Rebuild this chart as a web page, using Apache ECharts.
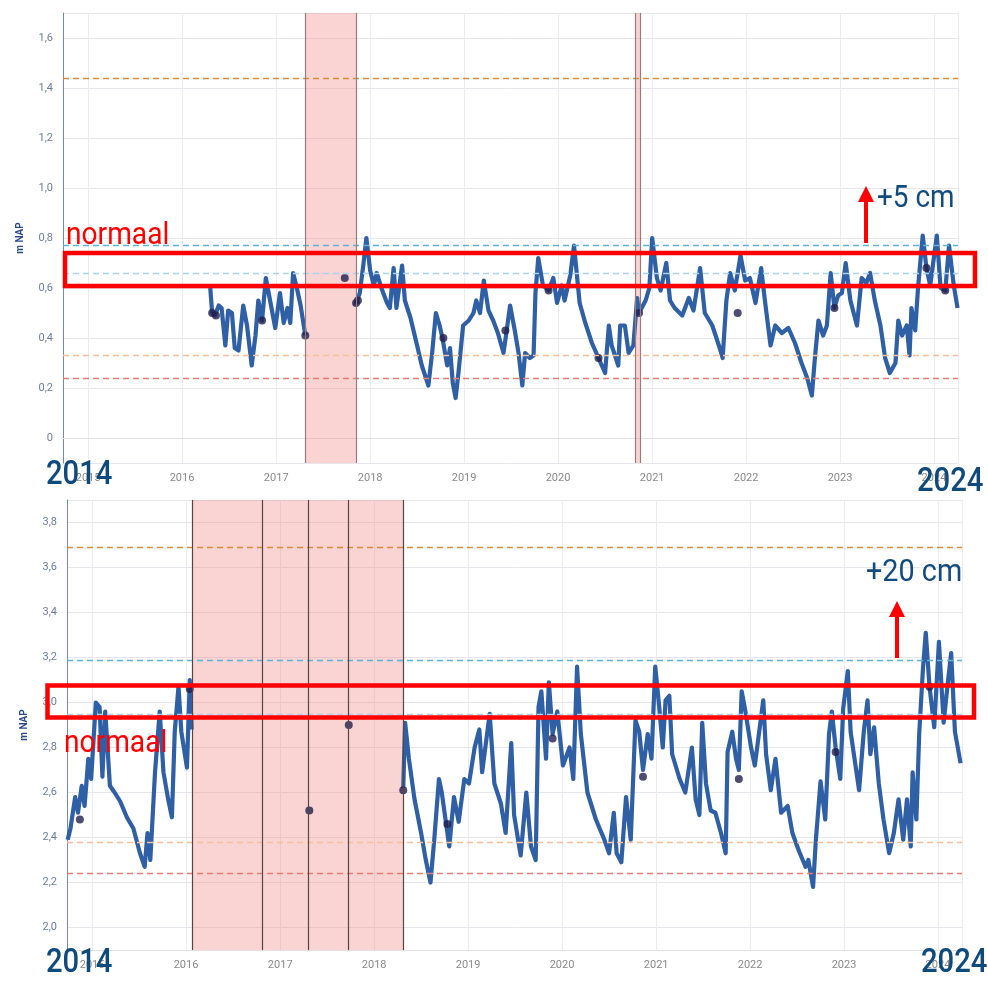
<!DOCTYPE html>
<html>
<head>
<meta charset="utf-8">
<script src="https://cdn.jsdelivr.net/npm/echarts@6/dist/echarts.min.js"></script>
<style>
html,body{margin:0;padding:0;background:#fff;}
#chart{width:988px;height:981px;}
</style>
</head>
<body>
<div id="chart"></div>
<script>
// ---------- DATA (decimal year, m NAP) ----------
const topSegA = [[2016.30,0.60],[2016.32,0.50],[2016.35,0.49],[2016.39,0.53],[2016.42,0.52],[2016.46,0.37],[2016.49,0.51],[2016.53,0.50],[2016.56,0.36],[2016.60,0.35],[2016.65,0.53],[2016.69,0.45],[2016.74,0.29],[2016.78,0.41],[2016.81,0.55],[2016.85,0.47],[2016.89,0.64],[2016.94,0.54],[2016.99,0.44],[2017.04,0.58],[2017.08,0.46],[2017.12,0.52],[2017.15,0.46],[2017.18,0.66],[2017.22,0.60],[2017.26,0.53],[2017.31,0.41]];
const topSegB = [[2017.84,0.53],[2017.89,0.58],[2017.93,0.70],[2017.96,0.80],[2018.00,0.67],[2018.04,0.61],[2018.07,0.66],[2018.12,0.60],[2018.18,0.54],[2018.21,0.52],[2018.25,0.68],[2018.28,0.52],[2018.34,0.69],[2018.37,0.55],[2018.43,0.48],[2018.50,0.37],[2018.55,0.29],[2018.62,0.21],[2018.66,0.34],[2018.70,0.50],[2018.74,0.45],[2018.77,0.40],[2018.82,0.29],[2018.85,0.36],[2018.88,0.22],[2018.91,0.16],[2018.94,0.26],[2018.99,0.45],[2019.05,0.47],[2019.10,0.50],[2019.13,0.55],[2019.17,0.50],[2019.21,0.63],[2019.26,0.51],[2019.31,0.47],[2019.36,0.42],[2019.42,0.34],[2019.45,0.42],[2019.49,0.53],[2019.54,0.43],[2019.58,0.34],[2019.62,0.21],[2019.65,0.34],[2019.70,0.32],[2019.74,0.33],[2019.76,0.58],[2019.79,0.72],[2019.84,0.61],[2019.90,0.59],[2019.95,0.64],[2019.99,0.54],[2020.04,0.61],[2020.07,0.55],[2020.13,0.65],[2020.17,0.77],[2020.23,0.54],[2020.29,0.46],[2020.36,0.38],[2020.43,0.32],[2020.50,0.26],[2020.54,0.45],[2020.57,0.37],[2020.64,0.29],[2020.66,0.45],[2020.71,0.45],[2020.75,0.34],[2020.80,0.37],[2020.84,0.56],[2020.86,0.50],[2020.93,0.55],[2020.97,0.60],[2021.00,0.80],[2021.05,0.64],[2021.09,0.59],[2021.15,0.70],[2021.19,0.55],[2021.24,0.52],[2021.32,0.49],[2021.39,0.56],[2021.44,0.51],[2021.51,0.68],[2021.56,0.50],[2021.64,0.45],[2021.71,0.37],[2021.75,0.32],[2021.79,0.55],[2021.83,0.66],[2021.88,0.59],[2021.94,0.73],[2021.99,0.63],[2022.04,0.64],[2022.10,0.54],[2022.16,0.68],[2022.20,0.55],[2022.26,0.37],[2022.31,0.45],[2022.38,0.42],[2022.45,0.44],[2022.52,0.38],[2022.59,0.30],[2022.65,0.24],[2022.70,0.17],[2022.73,0.31],[2022.77,0.47],[2022.82,0.41],[2022.86,0.45],[2022.90,0.66],[2022.94,0.52],[2022.98,0.57],[2023.02,0.58],[2023.06,0.70],[2023.11,0.55],[2023.18,0.45],[2023.23,0.64],[2023.28,0.62],[2023.32,0.66],[2023.37,0.55],[2023.43,0.45],[2023.48,0.32],[2023.53,0.26],[2023.59,0.30],[2023.62,0.47],[2023.66,0.41],[2023.71,0.45],[2023.74,0.33],[2023.76,0.52],[2023.80,0.43],[2023.83,0.60],[2023.88,0.81],[2023.92,0.68],[2023.96,0.61],[2024.03,0.81],[2024.07,0.60],[2024.12,0.59],[2024.16,0.77],[2024.21,0.61],[2024.25,0.52]];
const topDots = [[2016.32,0.50],[2016.36,0.49],[2016.85,0.47],[2017.31,0.41],[2017.73,0.64],[2017.85,0.54],[2017.87,0.55],[2018.78,0.40],[2019.44,0.43],[2019.90,0.59],[2020.43,0.32],[2020.86,0.50],[2021.91,0.50],[2022.94,0.52],[2023.92,0.68],[2024.12,0.59]];
const topThresholds = [1.44,0.765,0.655,0.325,0.245];
const topShades = [[2017.31,2017.85],[2020.82,2020.87]];
const topShadeEdges = [2017.31,2017.85,2020.82,2020.87];

const botSegA = [[2014.74,2.39],[2014.77,2.44],[2014.82,2.58],[2014.85,2.51],[2014.89,2.63],[2014.92,2.54],[2014.96,2.75],[2014.99,2.66],[2015.04,3.00],[2015.08,2.98],[2015.11,2.67],[2015.14,2.96],[2015.19,2.63],[2015.24,2.60],[2015.30,2.56],[2015.37,2.49],[2015.44,2.44],[2015.51,2.33],[2015.56,2.27],[2015.59,2.42],[2015.62,2.30],[2015.67,2.69],[2015.72,2.96],[2015.76,2.69],[2015.81,2.57],[2015.85,2.49],[2015.88,2.87],[2015.92,3.07],[2015.95,2.87],[2016.01,2.71],[2016.04,3.10],[2016.06,2.88]];
const botSegB = [[2018.31,2.62],[2018.33,2.91],[2018.37,2.75],[2018.43,2.57],[2018.50,2.42],[2018.55,2.30],[2018.60,2.20],[2018.64,2.39],[2018.69,2.66],[2018.72,2.60],[2018.80,2.36],[2018.85,2.58],[2018.90,2.47],[2018.96,2.66],[2019.01,2.64],[2019.07,2.80],[2019.12,2.88],[2019.15,2.69],[2019.23,2.95],[2019.28,2.64],[2019.35,2.55],[2019.40,2.42],[2019.46,2.82],[2019.49,2.50],[2019.56,2.32],[2019.62,2.60],[2019.67,2.36],[2019.72,2.30],[2019.75,2.98],[2019.78,3.05],[2019.83,2.75],[2019.86,3.09],[2019.90,2.86],[2019.95,2.96],[2020.01,2.72],[2020.08,2.80],[2020.12,2.66],[2020.16,3.16],[2020.20,2.86],[2020.27,2.60],[2020.36,2.48],[2020.45,2.39],[2020.50,2.33],[2020.55,2.51],[2020.58,2.33],[2020.63,2.29],[2020.68,2.58],[2020.73,2.39],[2020.78,2.92],[2020.82,2.87],[2020.86,2.70],[2020.91,2.86],[2020.95,2.75],[2020.99,3.16],[2021.03,2.99],[2021.07,2.80],[2021.10,3.01],[2021.14,3.03],[2021.17,2.77],[2021.25,2.66],[2021.31,2.60],[2021.38,2.80],[2021.42,2.57],[2021.46,2.50],[2021.49,2.91],[2021.53,2.64],[2021.58,2.52],[2021.63,2.51],[2021.69,2.42],[2021.74,2.33],[2021.76,2.78],[2021.81,2.87],[2021.85,2.75],[2021.88,2.70],[2021.91,3.05],[2021.95,2.96],[2022.01,2.80],[2022.05,2.72],[2022.14,3.01],[2022.17,2.77],[2022.22,2.61],[2022.27,2.75],[2022.33,2.51],[2022.40,2.54],[2022.45,2.42],[2022.52,2.34],[2022.59,2.27],[2022.62,2.30],[2022.67,2.18],[2022.70,2.39],[2022.75,2.65],[2022.80,2.48],[2022.84,2.86],[2022.87,2.96],[2022.91,2.80],[2022.96,2.66],[2022.99,2.97],[2023.04,3.14],[2023.07,2.87],[2023.16,2.61],[2023.21,2.87],[2023.25,3.01],[2023.28,2.77],[2023.32,2.89],[2023.37,2.64],[2023.42,2.48],[2023.48,2.33],[2023.53,2.42],[2023.58,2.57],[2023.63,2.39],[2023.67,2.57],[2023.71,2.36],[2023.73,2.69],[2023.77,2.48],[2023.80,2.86],[2023.84,3.15],[2023.87,3.31],[2023.91,3.07],[2023.96,2.89],[2024.01,3.27],[2024.06,2.91],[2024.10,3.07],[2024.14,3.22],[2024.18,2.87],[2024.24,2.73]];
const botDots = [[2014.87,2.48],[2016.04,3.06],[2017.31,2.52],[2017.73,2.90],[2018.31,2.61],[2018.78,2.46],[2019.90,2.84],[2020.86,2.67],[2021.88,2.66],[2022.91,2.78],[2023.91,3.07]];
const botThresholds = [3.69,3.185,2.95,2.375,2.24];
const botShades = [[2016.07,2018.31]];
const botShadeEdges = [2016.07,2016.81,2017.30,2017.72,2018.31];

const thresholdColors = ['#dc8a38','#5cb4d8','#a9d3f0','#f6bf98','#ea7b72'];
const xRange = [2014.733, 2024.255];
const topY = [-0.1, 1.7];
const botY = [1.9, 3.9];

// ---------- helpers ----------
function yr(d){const y=Math.floor(d);const s=new Date(y,0,1).getTime(),e=new Date(y+1,0,1).getTime();return s+(d-y)*(e-s);}
const toPts = arr => arr.map(p => [yr(p[0]), p[1]]);
function yFmt(v){ if (Math.abs(v/0.2-Math.round(v/0.2))>1e-6) return ''; if (Math.abs(v)<1e-9) return '0'; return v.toFixed(1).replace('.',','); }

const LINE = '#2f60a6';
function thresholdLines(vals){ return vals.map((v,i)=>({yAxis:v, lineStyle:{color:thresholdColors[i], type:[6,4], width:1.3}})); }
function edgeLines(vals, color){ return vals.map(v=>({xAxis:yr(v), lineStyle:{color:color, type:'solid', width:1.2}})); }

function xAxisCfg(gi){ return {
  type:'time', gridIndex:gi, min:yr(xRange[0]), max:yr(xRange[1]),
  minInterval:365*864e5, maxInterval:366*864e5,
  axisLine:{show:true, lineStyle:{color:'#e2e2e2'}}, axisTick:{show:false},
  axisLabel:{color:'#8a8a8a', fontSize:11, fontFamily:'Roboto', margin:10, formatter:v=>String(new Date(v).getFullYear())},
  splitLine:{show:true, lineStyle:{color:'#ebebf0', width:1}}
};}
function yAxisCfg(gi, r, split){ return {
  type:'value', gridIndex:gi, min:r[0], max:r[1], splitNumber:split,
  name:'m NAP', nameLocation:'middle', nameGap:38, nameRotate:90,
  nameTextStyle:{color:'#2b4c8a', fontSize:10, fontWeight:'bold', fontFamily:'Roboto'},
  axisLine:{show:true, lineStyle:{color:'#7088b8', width:1}}, axisTick:{show:false},
  axisLabel:{color:'#6d7ca3', fontSize:11, fontFamily:'Roboto', margin:10, formatter:yFmt, showMinLabel:false, showMaxLabel:false},
  splitLine:{show:true, lineStyle:{color:'#e6e6ec', width:1}}
};}

function panelSeries(gi, segA, segB, dots, thr, shades, edges, edgeColor){
  const lineStyle = {color:LINE, width:4.2, join:'round'};
  return [
    {type:'line', xAxisIndex:gi, yAxisIndex:gi, data:toPts(segA), showSymbol:false, lineStyle, z:3,
      markLine:{silent:true, symbol:'none', label:{show:false}, data:thresholdLines(thr).concat(edgeLines(edges, edgeColor))},
      markArea:{silent:true, itemStyle:{color:'rgba(242,140,140,0.38)'}, data:shades.map(s=>[{xAxis:yr(s[0])},{xAxis:yr(s[1])}])}
    },
    {type:'line', xAxisIndex:gi, yAxisIndex:gi, data:toPts(segB), showSymbol:false, lineStyle, z:3},
    {type:'scatter', xAxisIndex:gi, yAxisIndex:gi, data:toPts(dots), symbolSize:8, itemStyle:{color:'#221f4e'}, z:4}
  ];
}

const FONT = 'Roboto';
function txt(x,y,t,size,color,sx,w){ return {type:'text', x:x, y:y, scaleX:sx, z:100,
  style:{x:0, y:0, text:t, fill:color, font:(w||400)+' '+size+'px '+FONT, textVerticalAlign:'middle', textAlign:'left'}}; }
function box(x1,y1,x2,y2){ return {type:'rect', z:99, shape:{x:x1,y:y1,width:x2-x1,height:y2-y1}, style:{fill:null, stroke:'#ff0000', lineWidth:4.5}}; }
function arrow(cx, yTop, yBot){ return [
  {type:'rect', z:99, shape:{x:cx-2, y:yTop+12, width:4, height:yBot-yTop-12}, style:{fill:'#ff0000'}},
  {type:'polygon', z:99, shape:{points:[[cx-8,yTop+16],[cx+8,yTop+16],[cx,yTop]]}, style:{fill:'#ff0000'}}
];}

const chart = echarts.init(document.getElementById('chart'), null, {renderer:'canvas'});
chart.setOption({
  animation:false,
  backgroundColor:'#ffffff',
  grid:[{left:63, top:13, width:895, height:450}, {left:67, top:500, width:895, height:450}],
  xAxis:[xAxisCfg(0), xAxisCfg(1)],
  yAxis:[yAxisCfg(0, topY, 9), yAxisCfg(1, botY, 10)],
  series: panelSeries(0, topSegA, topSegB, topDots, topThresholds, topShades, topShadeEdges, '#9a7c7c')
    .concat(panelSeries(1, botSegA, botSegB, botDots, botThresholds, botShades, botShadeEdges, '#5a4545')),
  graphic:[
    box(65,253,975,286),
    box(47.5,685.5,974,717.5),
    txt(66,236,'normaal',32,'#ff0000',0.88),
    txt(64,744,'normaal',32,'#ff0000',0.88),
    txt(877,199,'+5 cm',31,'#114b7f',0.9),
    txt(866,573,'+20 cm',32,'#114b7f',0.9),
    txt(46,475,'2014',34,'#0e4a7c',0.86,500),
    txt(917,482,'2024',34,'#0e4a7c',0.86,500),
    txt(46,963,'2014',34,'#0e4a7c',0.86,500),
    txt(921,963,'2024',34,'#0e4a7c',0.86,500)
  ].concat(arrow(866,186,243)).concat(arrow(897,601,658))
});
</script>
</body>
</html>
